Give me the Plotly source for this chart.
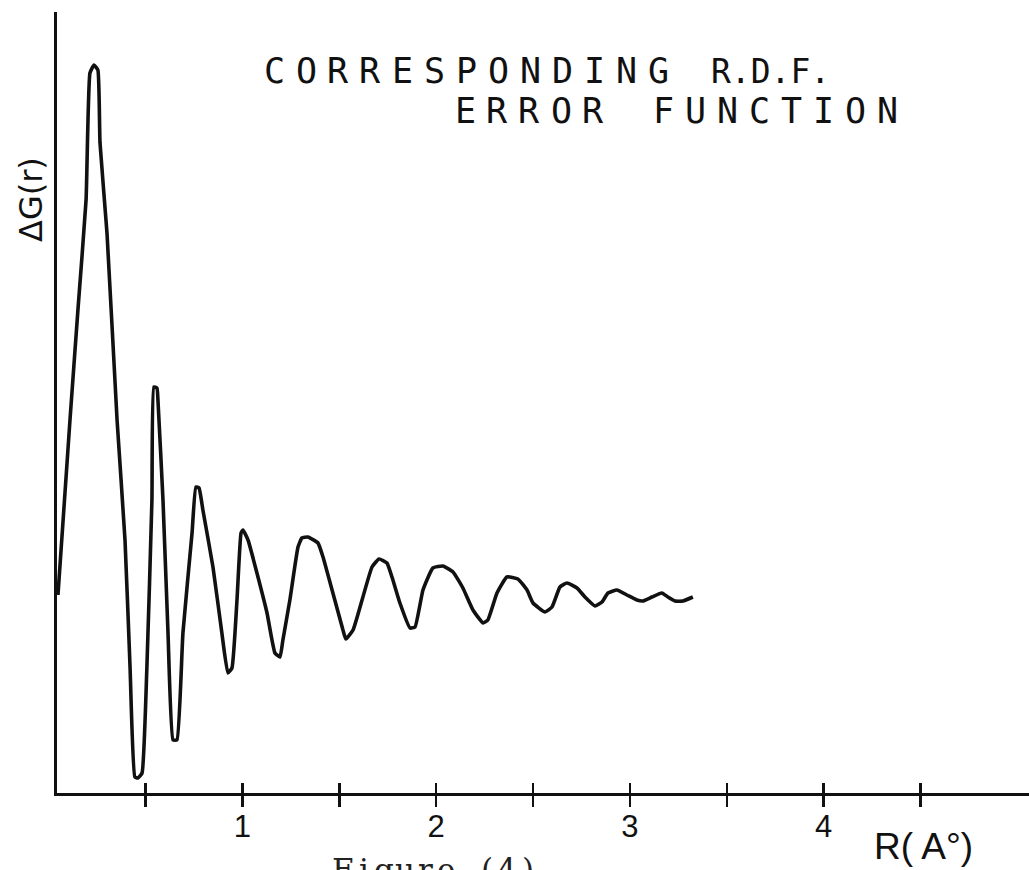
import plotly.graph_objects as go

# ---- data (R in Angstrom, dG in arbitrary units) ----
r_values = [0.048, 0.110, 0.151, 0.193, 0.213, 0.234, 0.254, 0.265, 0.301, 0.353,
            0.394, 0.420, 0.445, 0.461, 0.482, 0.507, 0.533, 0.543, 0.559, 0.564,
            0.590, 0.616, 0.642, 0.662, 0.693, 0.740, 0.760, 0.776, 0.796, 0.848,
            0.894, 0.925, 0.946, 0.972, 0.993, 1.003, 1.029, 1.075, 1.127, 1.168,
            1.194, 1.209, 1.245, 1.287, 1.307, 1.338, 1.390, 1.416, 1.467, 1.519,
            1.534, 1.571, 1.622, 1.669, 1.705, 1.746, 1.772, 1.813, 1.865, 1.891,
            1.932, 1.983, 2.035, 2.087, 2.138, 2.190, 2.242, 2.267, 2.314, 2.365,
            2.422, 2.469, 2.500, 2.562, 2.598, 2.639, 2.675, 2.727, 2.768, 2.820,
            2.856, 2.887, 2.933, 2.985, 3.036, 3.067, 3.114, 3.165, 3.196, 3.233,
            3.274, 3.325]
dg_values = [0.05, 1.80, 2.90, 4.00, 5.27, 5.35, 5.30, 4.57, 3.67, 1.80,
             0.60, -0.67, -1.77, -1.78, -1.73, -0.67, 1.00, 2.13, 2.12, 2.00,
             1.00, -0.33, -1.40, -1.40, -0.33, 0.67, 1.13, 1.12, 0.90, 0.33,
             -0.33, -0.73, -0.68, 0.00, 0.67, 0.70, 0.60, 0.27, -0.13, -0.53,
             -0.57, -0.40, 0.00, 0.53, 0.62, 0.63, 0.57, 0.43, 0.07, -0.30,
             -0.39, -0.30, 0.03, 0.33, 0.41, 0.37, 0.23, -0.03, -0.28, -0.27,
             0.10, 0.32, 0.34, 0.28, 0.12, -0.10, -0.23, -0.20, 0.07, 0.23,
             0.21, 0.10, -0.03, -0.12, -0.07, 0.13, 0.17, 0.12, 0.03, -0.06,
             -0.02, 0.07, 0.10, 0.05, 0.00, -0.01, 0.03, 0.07, 0.03, -0.01,
             -0.01, 0.03]

tick_vals = [0.5, 1.0, 1.5, 2.0, 2.5, 3.0, 3.5, 4.0, 4.5]
tick_text = ["", "1", "", "2", "", "3", "", "4", ""]

title_line1_word = "CORRESPONDING"
title_line1_tail = "R.D.F."
title_line2_words = ["ERROR", "FUNCTION"]
y_label = "ΔG(r)"
x_label = "R( A°)"
caption = "Figure (4)"

X_RANGE = [0.043, 5.06]
Y_RANGE = [-1.93, 5.88]

W, H = 1029, 870
ML, MR, MT, MB = 57, 0, 12, 77
PW, PH = W - ML - MR, H - MT - MB


def px(x):
    return (x - ML) / PW


def py(y):
    return (H - MB - y) / PH


fig = go.Figure()
fig.add_trace(go.Scatter(
    x=r_values, y=dg_values, mode="lines",
    line=dict(color="#111111", width=3.6, shape="spline", smoothing=0.4),
    showlegend=False, hoverinfo="skip",
))
# invisible helper trace so the overlaid tick axis (crossing ticks) is drawn
fig.add_trace(go.Scatter(x=[X_RANGE[0]], y=[Y_RANGE[0]], xaxis="x2", yaxis="y",
                         mode="markers", marker=dict(opacity=0),
                         showlegend=False, hoverinfo="skip"))

annotations = []
mono = "DejaVu Sans Mono"
TS = 35
for i, ch in enumerate(title_line1_word):
    annotations.append(dict(text=ch, x=px(274 + 32 * i), y=py(71), xref="paper", yref="paper",
                            xanchor="center", yanchor="middle", showarrow=False,
                            font=dict(family=mono, size=TS, color="#111")))
annotations.append(dict(text=title_line1_tail, x=px(709), y=py(71), xref="paper", yref="paper",
                        xanchor="left", yanchor="middle", showarrow=False,
                        font=dict(family=mono, size=TS - 2, color="#111")))
starts = [465, 663]
for word, s in zip(title_line2_words, starts):
    for i, ch in enumerate(word):
        annotations.append(dict(text=ch, x=px(s + 32 * i), y=py(111), xref="paper", yref="paper",
                                xanchor="center", yanchor="middle", showarrow=False,
                                font=dict(family=mono, size=TS, color="#111")))

annotations.append(dict(text=y_label, x=px(31), y=py(200), xref="paper", yref="paper",
                        xanchor="center", yanchor="middle", textangle=-90, showarrow=False,
                        font=dict(family="DejaVu Sans", size=32, color="#111")))
annotations.append(dict(text=x_label, x=px(923), y=py(846), xref="paper", yref="paper",
                        xanchor="center", yanchor="middle", showarrow=False,
                        font=dict(family="Liberation Sans", size=37, color="#111")))
for i, ch in enumerate(caption):
    if ch == " ":
        continue
    annotations.append(dict(text=ch, x=px(343 + 20.5 * i), y=py(850), xref="paper", yref="paper",
                            xanchor="center", yanchor="top", showarrow=False,
                            font=dict(family="DejaVu Serif", size=31, color="#222")))

axis_common = dict(showgrid=False, zeroline=False)
fig.update_layout(
    width=W, height=H,
    margin=dict(l=ML, r=MR, t=MT, b=MB, pad=0),
    paper_bgcolor="white", plot_bgcolor="white",
    annotations=annotations,
    xaxis=dict(range=X_RANGE, showline=True, linecolor="#111", linewidth=3,
               tickmode="array", tickvals=tick_vals, ticktext=tick_text,
               ticks="outside", ticklen=11, tickwidth=2.5, tickcolor="#111",
               ticklabelstandoff=-7,
               tickfont=dict(family="Liberation Sans", size=31, color="#111"),
               **axis_common),
    xaxis2=dict(range=X_RANGE, overlaying="x", anchor="y", side="bottom",
                showline=False, tickmode="array", tickvals=tick_vals,
                ticktext=[""] * len(tick_vals), showticklabels=True,
                ticks="inside", ticklen=10, tickwidth=2.5, tickcolor="#111",
                **axis_common),
    yaxis=dict(range=Y_RANGE, showline=True, linecolor="#111", linewidth=3.5,
               showticklabels=False, ticks="", **axis_common),
)

fig.write_html("out.html", config=dict(displayModeBar=False, staticPlot=True),
               post_script="document.body.style.margin='0';document.body.style.overflow='hidden';")
